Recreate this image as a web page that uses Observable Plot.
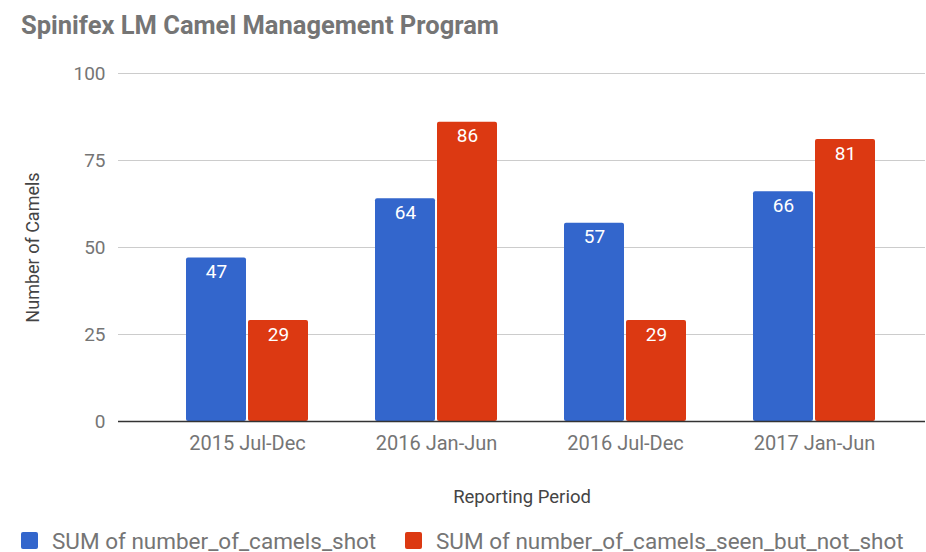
<!DOCTYPE html>
<html>
<head>
<meta charset="utf-8">
<script src="https://cdn.jsdelivr.net/npm/d3@7"></script>
<script src="https://cdn.jsdelivr.net/npm/@observablehq/plot@0.6"></script>
<style>
  html, body { margin: 0; padding: 0; background: #fff; }
  body { width: 926px; height: 552px; overflow: hidden; font-family: Roboto, "Noto Sans", sans-serif; }
  #title { height: 50px; box-sizing: border-box; padding: 11px 0 0 21px; font-size: 25.5px; font-weight: bold; color: #757575; line-height: 28px; }
  #legend { height: 27px; margin-top: 2px; position: relative; font-size: 22.5px; color: #757575; }
  .item { position: absolute; top: 0; height: 27px; display: flex; align-items: center; white-space: nowrap; }
  .sw { width: 17px; height: 17px; border-radius: 2px; margin-right: 14px; }
</style>
</head>
<body>
<div id="title">Spinifex LM Camel Management Program</div>
<div id="chart"></div>
<div id="legend"></div>
<script>
const periods = ["2015 Jul-Dec", "2016 Jan-Jun", "2016 Jul-Dec", "2017 Jan-Jun"];
const camelsShot = [47, 64, 57, 66];
const camelsSeenNotShot = [29, 86, 29, 81];
const yTicks = [0, 25, 50, 75, 100];
const seriesNames = ["SUM of number_of_camels_shot", "SUM of number_of_camels_seen_but_not_shot"];
const colors = ["#3366cc", "#dc3912"];

const data = periods.map((p, i) => ({period: p, shot: camelsShot[i], seen: camelsSeenNotShot[i]}));

const chart = Plot.plot({
  width: 926,
  height: 475,
  marginTop: 23,
  marginBottom: 104,
  marginLeft: 118,
  marginRight: 1,
  style: {fontFamily: "Roboto, sans-serif", fontSize: "19px", color: "#757575", background: "#fff"},
  x: {domain: periods, insetLeft: 33, insetRight: 15, paddingInner: 0.357, paddingOuter: 0.1785, label: null},
  y: {domain: [0, 100], label: null},
  marks: [
    Plot.ruleY(yTicks.filter(d => d !== 0), {stroke: "#cccccc", strokeWidth: 1}),
    Plot.barY(data, {x: "period", y: "shot", fill: colors[0], insetRight: 62, rx: 2}),
    Plot.barY(data, {x: "period", y: "seen", fill: colors[1], insetLeft: 62, rx: 2}),
    Plot.ruleY([0], {stroke: "#333333", strokeWidth: 1.5}),
    Plot.text(data, {x: "period", y: "shot", text: d => String(d.shot), dx: -31, dy: 14, fill: "white", fontSize: 19, lineAnchor: "middle"}),
    Plot.text(data, {x: "period", y: "seen", text: d => String(d.seen), dx: 31, dy: 14, fill: "white", fontSize: 19, lineAnchor: "middle"}),
    Plot.axisY(yTicks, {tickSize: 0, tickPadding: 13, label: null}),
    Plot.axisX({tickSize: 0, tickPadding: 14, label: null, fontSize: 20}),
    Plot.text(["Reporting Period"], {frameAnchor: "bottom", dy: 76, fill: "#444444", fontSize: 18.5, lineAnchor: "middle", textAnchor: "middle"}),
    Plot.text(["Number of Camels"], {frameAnchor: "left", dx: -85, rotate: -90, fill: "#444444", fontSize: 18, lineAnchor: "middle", textAnchor: "middle"})
  ]
});
document.getElementById("chart").appendChild(chart);

const legend = document.getElementById("legend");
const lefts = [21, 405];
seriesNames.forEach((name, i) => {
  const it = document.createElement("div");
  it.className = "item";
  it.style.left = lefts[i] + "px";
  it.innerHTML = `<div class="sw" style="background:${colors[i]}"></div><span>${name}</span>`;
  legend.appendChild(it);
});
</script>
</body>
</html>
